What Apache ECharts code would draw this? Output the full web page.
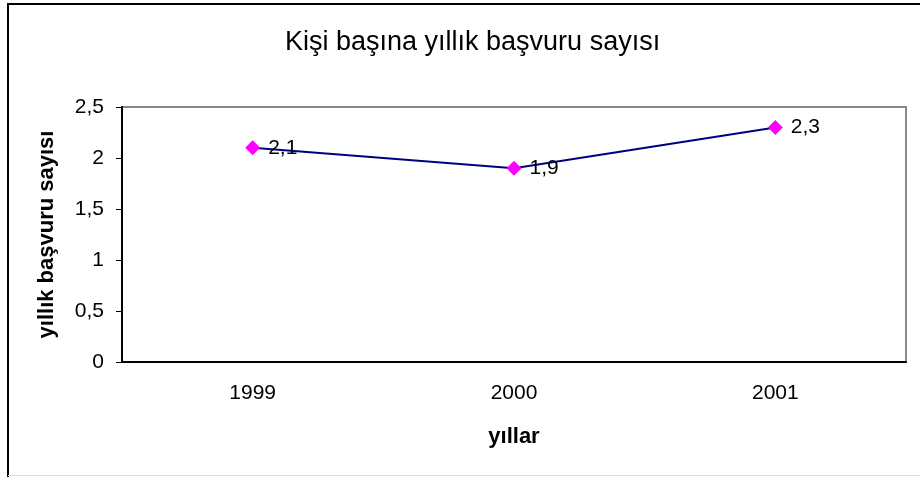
<!DOCTYPE html>
<html>
<head>
<meta charset="utf-8">
<script src="https://cdn.jsdelivr.net/npm/echarts@6/dist/echarts.min.js"></script>
<style>
  html, body { margin: 0; padding: 0; background: #fff; }
  #chart { width: 920px; height: 477px; }
</style>
</head>
<body>
<div id="chart"></div>
<script>
// yıllar ve kişi başına başvuru sayıları
var years = ["1999", "2000", "2001"];
var values = [2.1, 1.9, 2.3];
var yTicks = [0, 0.5, 1, 1.5, 2, 2.5];

var fmt = function (v) {
  return String(v).replace(".", ",");
};

var chart = echarts.init(document.getElementById("chart"));
var option = {
  backgroundColor: "#fff",
  textStyle: { fontFamily: "Liberation Sans, Arial, sans-serif" },
  title: {
    text: "Kişi başına yıllık başvuru sayısı",
    left: 280,
    top: 24,
    textStyle: { fontSize: 27, fontWeight: "normal", color: "#000" }
  },
  graphic: [
    {
      type: "polyline",
      shape: { points: [[8, 477], [8, 4], [920, 4]] },
      style: { stroke: "#000", lineWidth: 2, fill: null }
    },
    {
      type: "line",
      shape: { x1: 8, y1: 475.5, x2: 920, y2: 475.5 },
      style: { stroke: "#ddd", lineWidth: 1 }
    }
  ],
  grid: {
    left: 122,
    right: 14,
    top: 107,
    bottom: 115,
    show: true,
    borderColor: "#888",
    borderWidth: 2
  },
  xAxis: {
    type: "category",
    data: years,
    boundaryGap: true,
    name: "yıllar",
    nameLocation: "middle",
    nameGap: 64,
    nameTextStyle: { fontSize: 22, fontWeight: "bold", color: "#000" },
    axisLine: { lineStyle: { color: "#000", width: 2 } },
    axisTick: { inside: false, length: 6, lineStyle: { color: "#000" } },
    axisLabel: { fontSize: 21, color: "#000", margin: 21 }
  },
  yAxis: {
    type: "value",
    min: yTicks[0],
    max: yTicks[yTicks.length - 1],
    interval: yTicks[1] - yTicks[0],
    name: "yıllık başvuru sayısı",
    nameLocation: "middle",
    nameGap: 64,
    nameRotate: 90,
    nameTextStyle: { fontSize: 22, fontWeight: "bold", color: "#000" },
    axisLine: { show: true, lineStyle: { color: "#000", width: 2 } },
    axisTick: { show: true, length: 6, lineStyle: { color: "#000" } },
    splitLine: { show: false },
    axisLabel: { fontSize: 21, color: "#000", margin: 18, formatter: fmt }
  },
  series: [
    {
      type: "line",
      data: values,
      symbol: "diamond",
      symbolSize: 15,
      lineStyle: { color: "#000080", width: 2 },
      itemStyle: { color: "#ff00ff" },
      label: {
        show: true,
        position: "right",
        distance: 8,
        fontSize: 21,
        color: "#000",
        formatter: function (p) { return fmt(p.value); }
      },
      animation: false
    }
  ]
};
chart.setOption(option);
</script>
</body>
</html>
